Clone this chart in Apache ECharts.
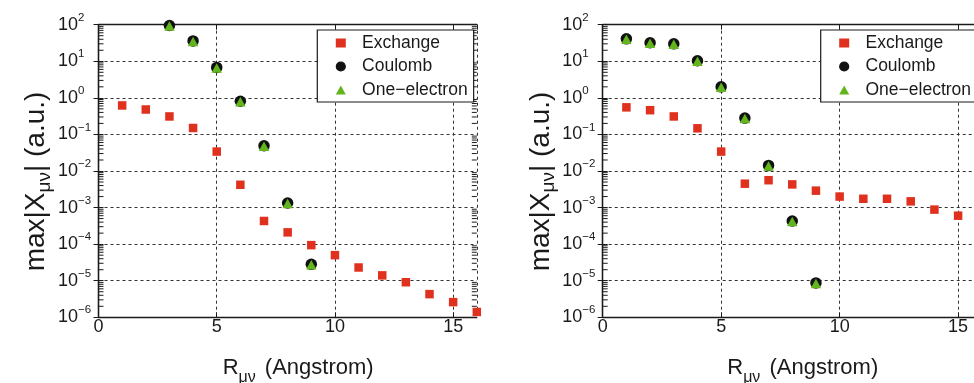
<!DOCTYPE html>
<html>
<head>
<meta charset="utf-8">
<script src="https://cdn.jsdelivr.net/npm/echarts@6/dist/echarts.min.js"></script>
<style>
  html, body { margin: 0; padding: 0; background: #fff; }
  #chart { width: 974px; height: 383px; }
</style>
</head>
<body>
<div id="chart"></div>
<script>
// Panel A (left): interaction magnitudes vs. pair distance
const leftExchangeR = [1, 2, 3, 4, 5, 6, 7, 8, 9, 10, 11, 12, 13, 14, 15, 16];
const leftExchange = [0.62, 0.48, 0.31, 0.15, 0.034, 0.0042, 4.3e-4, 2.1e-4, 9.4e-5, 5.0e-5, 2.3e-5, 1.4e-5, 9.1e-6, 4.3e-6, 2.6e-6, 1.4e-6];
const leftCoulombR = [3, 4, 5, 6, 7, 8, 9];
const leftCoulomb = [95, 36, 6.8, 0.81, 0.049, 1.33e-3, 2.8e-5];
const leftOneElectron = [95, 36, 6.8, 0.81, 0.049, 1.33e-3, 2.8e-5];

// Panel B (right)
const rightExchangeR = [1, 2, 3, 4, 5, 6, 7, 8, 9, 10, 11, 12, 13, 14, 15];
const rightExchange = [0.55, 0.46, 0.31, 0.147, 0.034, 4.5e-3, 5.6e-3, 4.3e-3, 2.9e-3, 2.0e-3, 1.74e-3, 1.74e-3, 1.48e-3, 8.8e-4, 6.0e-4];
const rightCoulombR = [1, 2, 3, 4, 5, 6, 7, 8, 9];
const rightCoulomb = [41, 32, 30, 10.3, 2.0, 0.28, 0.0142, 4.3e-4, 8.7e-6];
const rightOneElectron = [41, 32, 30, 10.3, 2.0, 0.28, 0.0142, 4.3e-4, 8.7e-6];

// Axis settings
const xRange = [0, 16];
const xTickStep = 5;
const yRange = [1e-6, 1e2];
const seriesNames = ['Exchange', 'Coulomb', 'One\u2212electron'];
const xAxisTitle = 'R{s|\u03bc\u03bd} (Angstrom)';
const yAxisTitle = 'max|X{s|\u03bc\u03bd}| (a.u.)';

const FONT = 'Liberation Sans, Arial, Helvetica, sans-serif';
const INK = '#1a1a1a';
const RED = '#e0301e';
const GREEN = '#62b51c';
const BLACK = '#111111';

const frameLine = { show: true, lineStyle: { color: INK, width: 1.3 } };
const innerTick = { show: true, inside: true, length: 5, lineStyle: { color: INK, width: 1 } };
const dotted = { show: true, lineStyle: { color: '#333', width: 1, type: [3, 3] } };

function pairs(xs, ys) { return xs.map((x, i) => [x, ys[i]]); }

// minor ticks at 2..9 x 10^n on a log axis
const minorTickValues = [];
for (let e = Math.round(Math.log10(yRange[0])); e < Math.round(Math.log10(yRange[1])); e++) {
  for (let m = 2; m <= 9; m++) minorTickValues.push([0, m * Math.pow(10, e)]);
}

function powerLabel(v) {
  const e = Math.round(Math.log10(v));
  const s = e < 0 ? '\u2212' + (-e) : String(e);
  return '{b|10}{s|' + s + '}';
}

function buildAxes(gi) {
  const xb = {
    gridIndex: gi, type: 'value', min: xRange[0], max: xRange[1], interval: xTickStep, position: 'bottom',
    axisLine: frameLine, axisTick: innerTick, splitLine: dotted,
    axisLabel: { fontSize: 18, fontFamily: FONT, color: INK, margin: 1, showMaxLabel: false },
    name: xAxisTitle, nameLocation: 'middle', nameGap: 34,
    nameTextStyle: {
      fontSize: 22, fontFamily: FONT, color: INK, padding: [0, 0, 0, 21],
      rich: { s: { fontSize: 16, fontFamily: FONT, color: INK, padding: [18, 3, 0, 0] } }
    }
  };
  const xt = {
    gridIndex: gi, type: 'value', min: xRange[0], max: xRange[1], interval: xTickStep, position: 'top',
    axisLine: frameLine, axisTick: innerTick, axisLabel: { show: false }, splitLine: { show: false }
  };
  const yl = {
    gridIndex: gi, type: 'log', logBase: 10, min: yRange[0], max: yRange[1], splitNumber: 8, position: 'left',
    axisLine: frameLine, axisTick: innerTick, splitLine: dotted,
    axisLabel: {
      align: 'left', margin: 40.5, formatter: powerLabel,
      rich: {
        b: { fontSize: 18, fontFamily: FONT, color: INK },
        s: { fontSize: 11.5, fontFamily: FONT, color: INK, padding: [0, 0, 14, 0] }
      }
    },
    name: yAxisTitle, nameLocation: 'middle', nameGap: 35, nameRotate: 90,
    nameTextStyle: {
      fontSize: 28, fontFamily: FONT, color: INK, padding: [0, 21, 0, 0],
      rich: { s: { fontSize: 19, fontFamily: FONT, color: INK, padding: [16, 0, 0, 0] } }
    }
  };
  const yr = {
    gridIndex: gi, type: 'log', logBase: 10, min: yRange[0], max: yRange[1], splitNumber: 8, position: 'right',
    axisLine: frameLine, axisTick: innerTick, axisLabel: { show: false }, splitLine: { show: false }
  };
  return { x: [xb, xt], y: [yl, yr] };
}

function minorTicks(xi, yi) {
  return {
    type: 'custom', xAxisIndex: xi, yAxisIndex: yi, silent: true, clip: false, z: 3,
    data: minorTickValues,
    renderItem: function (params, api) {
      const v = api.value(1);
      const a = api.coord([xRange[0], v]);
      const b = api.coord([xRange[1], v]);
      const st = { stroke: INK, lineWidth: 1 };
      return {
        type: 'group', children: [
          { type: 'line', shape: { x1: a[0], y1: a[1], x2: a[0] + 5, y2: a[1] }, style: st },
          { type: 'line', shape: { x1: b[0], y1: b[1], x2: b[0] - 5, y2: b[1] }, style: st }
        ]
      };
    }
  };
}

function scatterSet(xi, yi, exR, ex, coR, co, one) {
  return [
    { name: seriesNames[0], type: 'scatter', xAxisIndex: xi, yAxisIndex: yi, clip: false, z: 4,
      symbol: 'rect', symbolSize: 8.5, itemStyle: { color: RED, opacity: 1 }, data: pairs(exR, ex) },
    { name: seriesNames[1], type: 'scatter', xAxisIndex: xi, yAxisIndex: yi, clip: false, z: 5,
      symbol: 'circle', symbolSize: 11.5, itemStyle: { color: BLACK, opacity: 1 }, data: pairs(coR, co) },
    { name: seriesNames[2], type: 'scatter', xAxisIndex: xi, yAxisIndex: yi, clip: false, z: 6,
      symbol: 'triangle', symbolSize: [10.5, 9.5], symbolOffset: [0, 0.5], itemStyle: { color: GREEN, opacity: 1 }, data: pairs(coR, one) }
  ];
}

function legendAt(left) {
  return {
    left: left, top: 30, orient: 'vertical', selectedMode: false, z: 20,
    itemWidth: 10, itemHeight: 9, itemGap: 5.5, padding: [4, 6, 3, 18.4],
    backgroundColor: '#fff', borderColor: INK, borderWidth: 1.2, borderRadius: 0,
    textStyle: { fontSize: 17.5, fontFamily: FONT, color: INK, padding: [0, 0, 0, 11.3] },
    data: [
      { name: seriesNames[0], icon: 'rect', itemStyle: { color: RED, opacity: 1 } },
      { name: seriesNames[1], icon: 'circle', itemStyle: { color: BLACK, borderColor: BLACK, borderWidth: 1.2, opacity: 1 } },
      { name: seriesNames[2], icon: 'triangle', itemStyle: { color: GREEN, opacity: 1 } }
    ]
  };
}

const A = buildAxes(0);
const B = buildAxes(1);

const chart = echarts.init(document.getElementById('chart'), null, { renderer: 'canvas' });
chart.setOption({
  animation: false,
  backgroundColor: '#fff',
  grid: [
    { left: 98.5, right: 497.2, top: 24.7, bottom: 65.7, containLabel: false, outerBoundsMode: 'none' },
    { left: 602.7, right: -7.8, top: 24.7, bottom: 65.7, containLabel: false, outerBoundsMode: 'none' }
  ],
  xAxis: [A.x[0], A.x[1], B.x[0], B.x[1]],
  yAxis: [A.y[0], A.y[1], B.y[0], B.y[1]],
  legend: [legendAt(317.3), legendAt(820.7)],
  series: [
    minorTicks(0, 0),
    minorTicks(2, 2),
    ...scatterSet(0, 0, leftExchangeR, leftExchange, leftCoulombR, leftCoulomb, leftOneElectron),
    ...scatterSet(2, 2, rightExchangeR, rightExchange, rightCoulombR, rightCoulomb, rightOneElectron)
  ]
});
</script>
</body>
</html>
